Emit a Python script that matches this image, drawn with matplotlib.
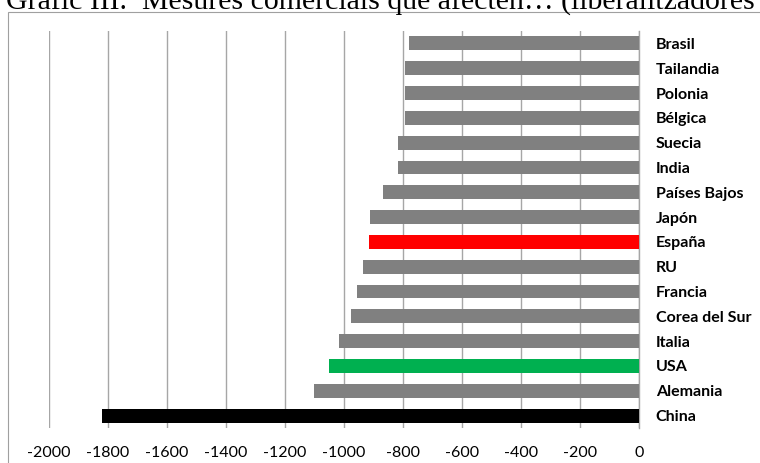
import matplotlib.pyplot as plt
from matplotlib.patches import Rectangle

# countries from top to bottom and their values
countries = ["Brasil", "Tailandia", "Polonia", "Bélgica", "Suecia", "India",
             "Países Bajos", "Japón", "España", "RU", "Francia",
             "Corea del Sur", "Italia", "USA", "Alemania", "China"]
values = [-779, -793, -793, -794, -816, -816, -867, -912, -916, -935,
          -955, -977, -1016, -1051, -1101, -1821]
highlight = {"España": "#FF0000", "USA": "#00B050", "China": "#000000"}
xticks = [-2000, -1800, -1600, -1400, -1200, -1000, -800, -600, -400, -200, 0]

W, H = 760, 463
fig = plt.figure(figsize=(W / 100, H / 100), dpi=100)

# chart frame, running off the right and bottom edges
fig.patches.append(Rectangle((8 / W, -0.1), 1.2, 1.1 - 12 / H,
                             transform=fig.transFigure, fill=False,
                             edgecolor="#a0a0a0", linewidth=0.8))

fig.text(6 / W, 1 - 9 / H,
         "Gràfic III.  Mesures comercials que afecten… (liberalitzadores",
         family="Liberation Serif", fontsize=21.5, ha="left", va="baseline")

ax = fig.add_axes([49 / W, (H - 428) / H, 590 / W, 397 / H])

ypos = list(range(len(countries)))
colors = [highlight.get(c, "#808080") for c in countries]
ax.barh(ypos, values, height=0.56, color=colors, zorder=3)

ax.set_xlim(-2000, 0)
ax.set_ylim(len(countries) - 0.5, -0.5)
ax.set_xticks(xticks)
ax.set_xticklabels([str(t) for t in xticks], family="Lato", fontsize=11.5)
ax.tick_params(axis="x", length=0, pad=13)

ax.yaxis.tick_right()
ax.set_yticks(ypos)
ax.set_yticklabels(countries, family="Lato", fontweight="bold", fontsize=11.5)
ax.tick_params(axis="y", length=0, pad=12)

ax.grid(axis="x", color="#a6a6a6", linewidth=1.0, zorder=0)
for s in ["top", "bottom", "left"]:
    ax.spines[s].set_visible(False)
ax.spines["right"].set_color("#a6a6a6")
ax.spines["right"].set_linewidth(1.0)

fig.savefig("out.png", dpi=100)
